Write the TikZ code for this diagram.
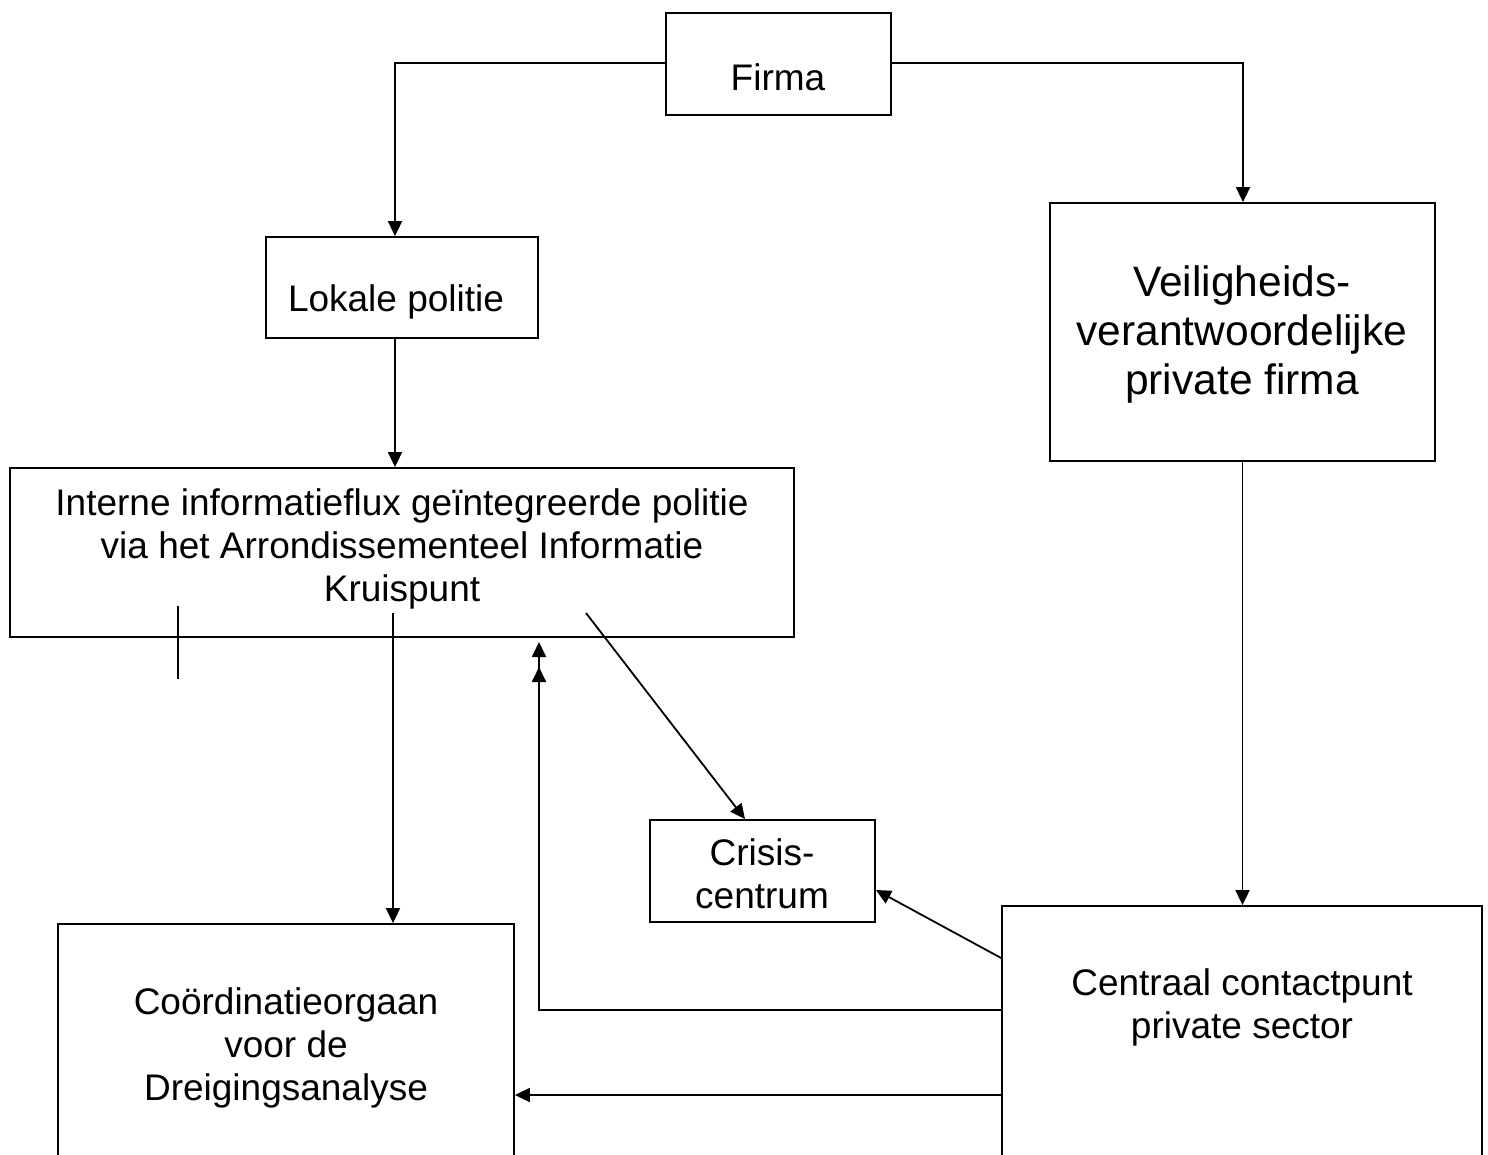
\documentclass[tikz,border=0pt]{standalone}
\usepackage{fontspec}
\setmainfont{Liberation Sans}
\usetikzlibrary{arrows.meta,calc}
\begin{document}
\begin{tikzpicture}[x=1pt,y=-1pt,
  box/.style={draw=black,line width=1.8pt,inner sep=0pt,minimum width=#1},
  conn/.style={line width=1.8pt,-{Triangle[length=15pt,width=14pt]}},
  plain/.style={line width=1.8pt},
  txt/.style={anchor=base,inner sep=0pt,font=\fontsize{37}{42}\selectfont},
  bigtxt/.style={anchor=base,inner sep=0pt,font=\fontsize{42.5}{48}\selectfont}]
\clip (0,0) rectangle (1488,1155);
\fill[white] (0,0) rectangle (1488,1155);
% boxes
\node[box=225pt,minimum height=102pt] (firma) at (778.5,64) {};
\node[box=272pt,minimum height=101pt] (lokale) at (402,287.5) {};
\node[box=385pt,minimum height=258pt] (veil) at (1242.5,332) {};
\node[box=784pt,minimum height=169pt] (interne) at (402,552.5) {};
\node[box=225pt,minimum height=102pt] (crisis) at (762.5,871) {};
\node[box=456pt,minimum height=246pt] (coord) at (286,1047) {};
\node[box=480pt,minimum height=264pt] (centraal) at (1242,1038) {};
% texts
\node[txt] (t1) at (778,91) {Firma};
\node[txt] (t2) at (396,312) {Lokale politie};
\node[bigtxt] (t3a) at (1242,297) {Veiligheids-};
\node[bigtxt] (t3b) at (1242,346) {verantwoordelijke};
\node[bigtxt] (t3c) at (1242,394) {private firma};
\node[txt] (t4a) at (402,515) {Interne informatieflux geïntegreerde politie};
\node[txt] (t4b) at (402,558) {via het Arrondissementeel Informatie};
\node[txt] (t4c) at (402,601) {Kruispunt};
\node[txt] (t5a) at (762,865) {Crisis-};
\node[txt] (t5b) at (762,908) {centrum};
\node[txt] (t6a) at (286,1014) {Coördinatieorgaan};
\node[txt] (t6b) at (286,1057) {voor de};
\node[txt] (t6c) at (286,1100) {Dreigingsanalyse};
\node[txt] (t7a) at (1242,995) {Centraal contactpunt};
\node[txt] (t7b) at (1242,1038) {private sector};
% free ends
\coordinate (k1) at (393,613);
\coordinate (k2) at (586,613);
\coordinate (t8) at (539,642);
\coordinate (t8b) at (539,667);
\coordinate (t8c) at (539,700);
\coordinate (s1) at (178,606);
\coordinate (s2) at (178,679);
% connectors
\draw[conn] ([yshift=1pt]firma.west) -| ([xshift=-7pt]lokale.north);
\draw[conn] ([yshift=1pt]firma.east) -| ([xshift=0.5pt]veil.north);
\draw[conn] ([xshift=-7pt]lokale.south) -- ([xshift=-7pt]lokale.south |- interne.north);
\draw[conn] (veil.south) -- (veil.south |- centraal.north);
\draw[conn] (k1) -- (k1 |- coord.north);
\draw[conn] (k2) -- ([xshift=-17.5pt]crisis.north);
\draw[conn] ([yshift=80pt]centraal.west) -- ([yshift=-19pt]crisis.east);
\draw[conn] ([yshift=28pt]centraal.west) -| (t8);
\draw[conn] (t8c) -- (t8b);
\draw[conn] ([yshift=-57pt]centraal.west) -- ([yshift=-57pt]centraal.west -| coord.east);
\draw[plain] (s1) -- (s2);
\end{tikzpicture}
\end{document}
